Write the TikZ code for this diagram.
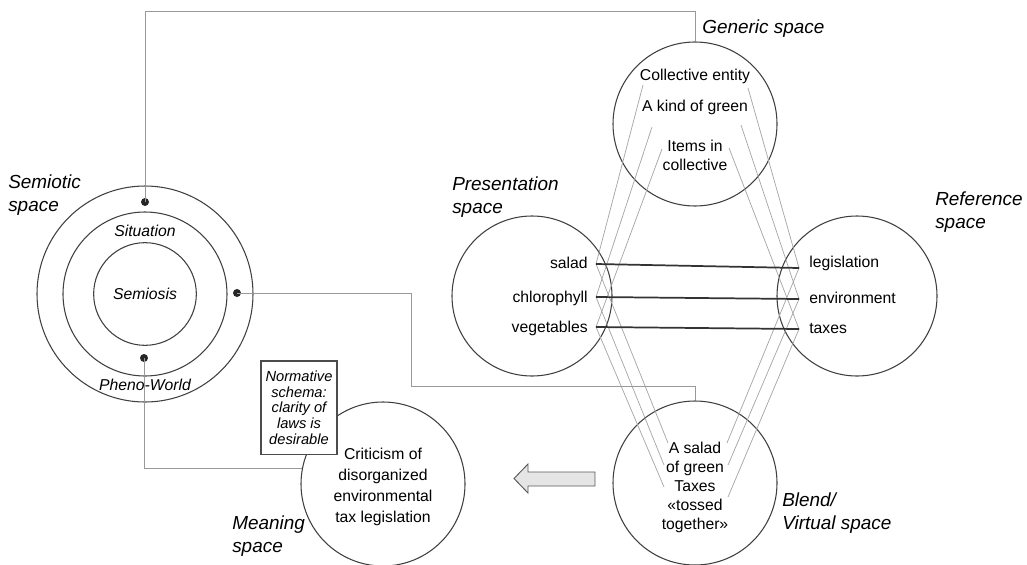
\documentclass[tikz,border=0pt]{standalone}
\usepackage{fontspec}
\setmainfont{Liberation Sans}
\usetikzlibrary{calc}

\begin{document}
\begin{tikzpicture}[x=0.75pt,y=-0.75pt,
  space/.style={circle,draw=black!75,line width=0.8pt,inner sep=0pt},
  lab/.style={font=\fontsize{14.2}{16.8}\selectfont\itshape,inner sep=0pt,align=left,anchor=west},
  ring/.style={font=\fontsize{11.8}{14}\selectfont\itshape,inner sep=0pt},
  txt/.style={font=\fontsize{11.8}{14.25}\selectfont,inner sep=0pt,align=center},
  dotn/.style={circle,fill=black!85,minimum size=6pt,inner sep=0pt},
  link/.style={draw=black!40,line width=0.7pt},
  map/.style={draw=black!35,line width=0.55pt},
  match/.style={draw=black!80,line width=1.3pt},
]
\path[use as bounding box] (0,0) rectangle (1027,564);

% semiotic space: three concentric rings
\node[space,minimum size=162pt] (semout) at (145,294) {};
\node[space,minimum size=123pt] (semmid) at (145,294) {};
\node[space,minimum size=77pt] (semin) at (145,294) {};
\node[ring] (situation) at (145,231) {Situation};
\node[ring] (semiosis) at (145,294) {Semiosis};
\node[ring] (pheno) at (145,385) {Pheno-World};
\node[lab] (semlab) at (8,195) {Semiotic\\space};
\node[dotn] (dtop) at (145,202) {};
\node[dotn] (dright) at (237,293) {};
\node[dotn] (dbot) at (144,358) {};

% the four mental spaces and the meaning space
\node[space,minimum size=123pt] (gen) at (695,124) {};
\node[space,minimum size=120pt] (pres) at (532,296) {};
\node[space,minimum size=120pt] (ref) at (857,296) {};
\node[space,minimum size=123pt] (blend) at (695,483) {};
\node[space,minimum size=123pt] (mean) at (383,484) {};

% space labels
\node[lab] (genlab) at (702,29) {Generic space};
\node[lab] (preslab) at (452,197) {Presentation\\space};
\node[lab] (reflab) at (935,212) {Reference\\space};
\node[lab] (blendlab) at (782,513) {Blend/\\Virtual space};
\node[lab] (meanlab) at (232,536) {Meaning\\space};

% generic space contents
\node[txt] (collective) at (695,76) {Collective entity};
\node[txt] (kind) at (695,107) {A kind of green};
\node[txt] (items) at (695,155) {Items in\\collective};

% presentation space contents
\node[txt,anchor=east] (salad) at (588,263) {salad};
\node[txt,anchor=east] (chloro) at (588,298) {chlorophyll};
\node[txt,anchor=east] (veg) at (588,328) {vegetables};

% reference space contents
\node[txt,anchor=west] (legis) at (809,263) {legislation};
\node[txt,anchor=west] (envir) at (809,298) {environment};
\node[txt,anchor=west] (taxes) at (809,328) {taxes};

% blend contents
\node[txt,font=\fontsize{11.8}{14.25}\selectfont] (blendtxt) at (695,487)
  {A salad\\of green\\Taxes\\«tossed\\together»};

% meaning contents
\node[txt,font=\fontsize{11.8}{15.75}\selectfont] (meantxt) at (383,487)
  {Criticism of\\disorganized\\environmental\\tax legislation};

% normative schema box
\node[draw=black!70,line width=1pt,fill=white,minimum width=57pt,minimum height=70pt,
      inner sep=0pt,align=center,font=\fontsize{11}{11.8}\selectfont\itshape]
  (norm) at (299,407.5) {Normative\\schema:\\clarity of\\laws is\\desirable};

% anchor points of the cross-space mappings
\coordinate (pS) at (596,264);
\coordinate (pC) at (596,297);
\coordinate (pV) at (596,327);
\coordinate (rL) at (799,268);
\coordinate (rE) at (799,299);
\coordinate (rT) at (799,329);
\coordinate (gS1) at (643,85);
\coordinate (gC1) at (652,127);
\coordinate (gV1) at (662,149);
\coordinate (gS2) at (748,88);
\coordinate (gC2) at (741,125);
\coordinate (gV2) at (729,148);
\coordinate (bS1) at (668,443);
\coordinate (bC1) at (664,465);
\coordinate (bV1) at (664,487);
\coordinate (bS2) at (727,443);
\coordinate (bC2) at (728,465);
\coordinate (bV2) at (728,497);

% generic space to input spaces
\draw[map] (gS1) -- (pS);
\draw[map] (gC1) -- (pC);
\draw[map] (gV1) -- (pV);
\draw[map] (gS2) -- (rL);
\draw[map] (gC2) -- (rE);
\draw[map] (gV2) -- (rT);
% input spaces to blend
\draw[map] (pS) -- (bS1);
\draw[map] (pC) -- (bC1);
\draw[map] (pV) -- (bV1);
\draw[map] (rL) -- (bS2);
\draw[map] (rE) -- (bC2);
\draw[map] (rT) -- (bV2);

% counterpart connections between the input spaces
\draw[match] (pS) -- (rL);
\draw[match] (pC) -- (rE);
\draw[match] (pV) -- (rT);

% links from the semiotic rings
\coordinate (topbend) at (695,11);
\coordinate (rbend1) at (411,386);
\coordinate (rbend2) at (695,386);
\draw[link] (dtop.center) |- (topbend) -- (gen.north);
\draw[link] (dright.center) -| (rbend1) -- (rbend2) -- (blend.north);
\draw[link] (dbot.center) |- (mean.169.5);

% block arrow from the blend to the meaning space
\draw[fill=black!10,draw=black!65,line width=0.7pt]
  (595,472) -- (528,472) -- (528,464) -- (514,478.5) -- (528,493) -- (528,486) -- (595,486) -- cycle;

\end{tikzpicture}
\end{document}
